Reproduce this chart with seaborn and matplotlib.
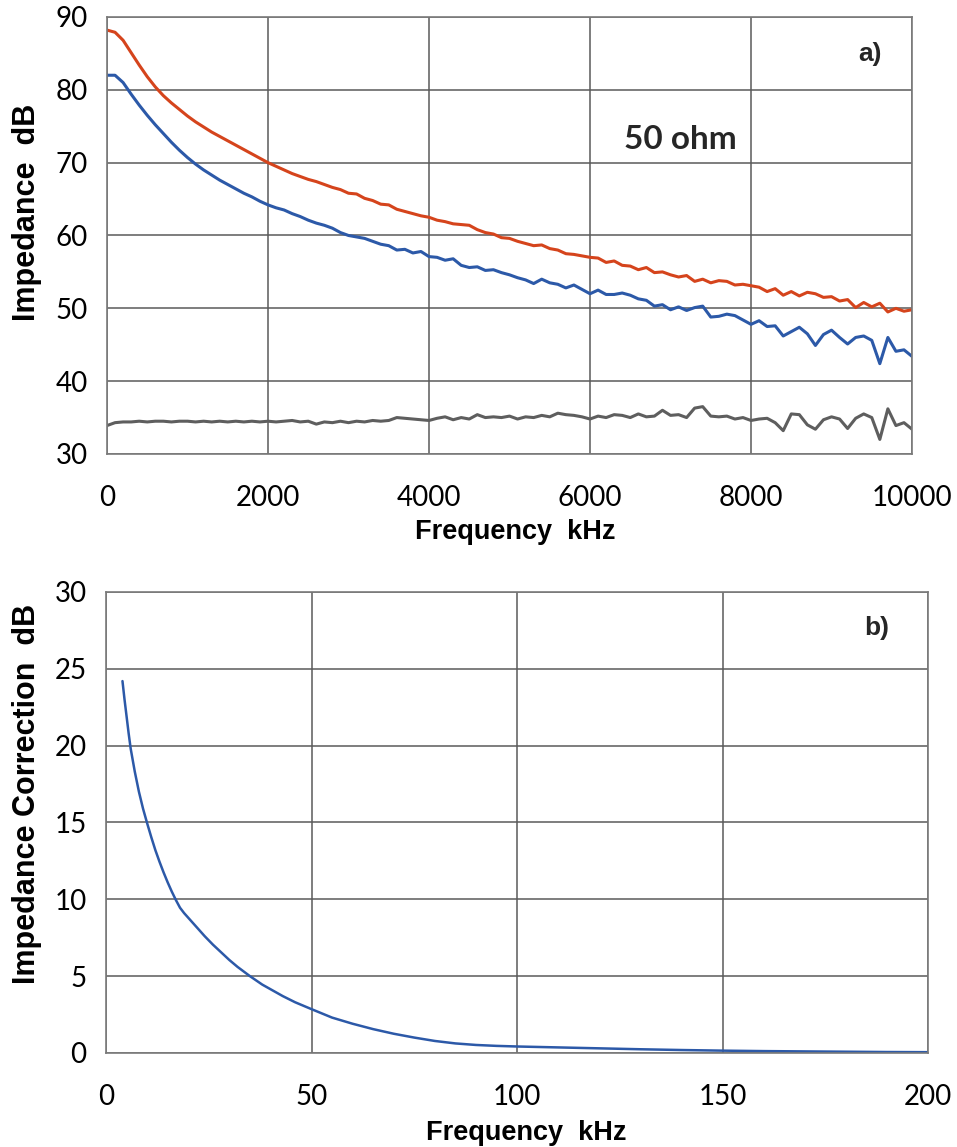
import numpy as np
import pandas as pd
import matplotlib
matplotlib.use("Agg")
import matplotlib.pyplot as plt
import seaborn as sns

# ---- impedance spectra (0 - 10000 kHz, 100 kHz step) ----
freq_khz = np.arange(0, 10001, 100)

impedance_red = [
    88.2, 87.9, 86.8, 85.1, 83.4, 81.8, 80.4, 79.2, 78.2, 77.3,
    76.4, 75.6, 74.9, 74.2, 73.6, 73.0, 72.4, 71.8, 71.2, 70.6,
    70.0, 69.5, 69.0, 68.5, 68.1, 67.7, 67.4, 67.0, 66.6, 66.3,
    65.8, 65.7, 65.1, 64.8, 64.3, 64.2, 63.6, 63.3, 63.0, 62.7,
    62.5, 62.1, 61.9, 61.6, 61.5, 61.4, 60.8, 60.4, 60.2, 59.7,
    59.6, 59.2, 58.9, 58.6, 58.7, 58.2, 58.0, 57.5, 57.4, 57.2,
    57.0, 56.9, 56.3, 56.5, 55.9, 55.8, 55.3, 55.6, 54.9, 55.0,
    54.6, 54.3, 54.5, 53.7, 54.0, 53.5, 53.8, 53.7, 53.2, 53.3,
    53.1, 52.9, 52.3, 52.7, 51.8, 52.3, 51.7, 52.2, 52.0, 51.5,
    51.6, 51.0, 51.2, 50.1, 50.8, 50.2, 50.7, 49.5, 50.0, 49.6,
    49.8,
]

impedance_blue = [
    82.0, 82.0, 81.0, 79.4, 77.9, 76.5, 75.2, 74.0, 72.8, 71.7,
    70.7, 69.8, 69.0, 68.3, 67.6, 67.0, 66.4, 65.8, 65.3, 64.7,
    64.2, 63.8, 63.5, 63.0, 62.6, 62.1, 61.7, 61.4, 61.0, 60.4,
    60.0, 59.8, 59.6, 59.2, 58.8, 58.6, 58.0, 58.1, 57.6, 57.8,
    57.1, 57.0, 56.6, 56.8, 55.9, 55.6, 55.7, 55.2, 55.3, 54.9,
    54.6, 54.2, 53.9, 53.4, 54.0, 53.5, 53.3, 52.8, 53.2, 52.6,
    52.0, 52.5, 51.9, 51.9, 52.1, 51.8, 51.3, 51.1, 50.3, 50.5,
    49.8, 50.2, 49.7, 50.1, 50.3, 48.8, 48.9, 49.2, 49.0, 48.4,
    47.8, 48.3, 47.5, 47.6, 46.2, 46.8, 47.4, 46.5, 44.9, 46.4,
    47.0, 46.0, 45.1, 46.0, 46.2, 45.6, 42.4, 46.0, 44.1, 44.3,
    43.4,
]

impedance_grey = [
    33.9, 34.3, 34.4, 34.4, 34.5, 34.4, 34.5, 34.5, 34.4, 34.5,
    34.5, 34.4, 34.5, 34.4, 34.5, 34.4, 34.5, 34.4, 34.5, 34.4,
    34.5, 34.4, 34.5, 34.6, 34.4, 34.5, 34.1, 34.4, 34.3, 34.5,
    34.3, 34.5, 34.4, 34.6, 34.5, 34.6, 35.0, 34.9, 34.8, 34.7,
    34.6, 34.9, 35.1, 34.7, 35.0, 34.8, 35.4, 35.0, 35.1, 35.0,
    35.2, 34.8, 35.1, 35.0, 35.3, 35.1, 35.6, 35.4, 35.3, 35.1,
    34.8, 35.2, 35.0, 35.4, 35.3, 35.0, 35.5, 35.1, 35.2, 36.0,
    35.3, 35.4, 35.0, 36.3, 36.5, 35.2, 35.1, 35.2, 34.8, 35.0,
    34.6, 34.8, 34.9, 34.3, 33.2, 35.5, 35.4, 34.0, 33.4, 34.7,
    35.1, 34.8, 33.5, 34.9, 35.5, 35.0, 32.0, 36.2, 33.9, 34.3,
    33.4,
]

# ---- impedance correction (kHz) ----
corr_freq_khz = [4, 4.5, 5, 5.5, 6, 7, 8, 9, 10, 11, 12, 13, 14, 15, 16, 17,
                 18, 19, 20, 22, 24, 26, 28, 30, 32, 35, 38, 40, 43, 46, 50,
                 55, 60, 65, 70, 75, 80, 85, 90, 95, 100, 110, 120, 130, 140,
                 150, 160, 170, 180, 190, 200]
correction_db = [24.2, 23.0, 21.9, 20.8, 19.8, 18.3, 17.0, 15.9, 14.95, 14.05,
                 13.2, 12.45, 11.75, 11.1, 10.5, 9.95, 9.45, 9.1, 8.8, 8.2,
                 7.6, 7.05, 6.55, 6.05, 5.6, 5.0, 4.45, 4.15, 3.7, 3.3, 2.85,
                 2.3, 1.9, 1.55, 1.25, 1.0, 0.78, 0.62, 0.52, 0.46, 0.42,
                 0.36, 0.30, 0.24, 0.19, 0.15, 0.12, 0.10, 0.08, 0.06, 0.05]

top_xticks = [0, 2000, 4000, 6000, 8000, 10000]
top_yticks = [30, 40, 50, 60, 70, 80, 90]
bot_xticks = [0, 50, 100, 150, 200]
bot_yticks = [0, 5, 10, 15, 20, 25, 30]

RED = "#D5441C"
BLUE = "#2C59A8"
GREY = "#5E5E5E"
GRID = "#5A5A5A"

sns.set_theme(style="whitegrid")
plt.rcParams["font.family"] = ["Lato", "DejaVu Sans"]

fig = plt.figure(figsize=(9.57, 11.47), dpi=100)
ax1 = fig.add_axes([0.1118, 0.6042, 0.8412, 0.3810])
ax2 = fig.add_axes([0.1108, 0.0820, 0.8589, 0.4019])

spectra = pd.DataFrame({
    "freq": np.concatenate([freq_khz] * 3),
    "value": impedance_red + impedance_blue + impedance_grey,
    "series": ["red"] * len(freq_khz) + ["blue"] * len(freq_khz) + ["grey"] * len(freq_khz),
})
sns.lineplot(data=spectra, x="freq", y="value", hue="series",
             palette={"red": RED, "blue": BLUE, "grey": GREY},
             linewidth=2.2, legend=False, ax=ax1, sort=False)

corr = pd.DataFrame({"freq": corr_freq_khz, "value": correction_db})
sns.lineplot(data=corr, x="freq", y="value", color=BLUE, linewidth=1.8,
             ax=ax2, sort=False)

for line in ax1.lines + ax2.lines:
    line.set_solid_joinstyle("round")
    line.set_solid_capstyle("round")

bold_arial = ["Liberation Sans", "DejaVu Sans"]


def style_axes(ax, xticks, yticks, xlab, ylab, xlab_pos, ylab_pos):
    ax.set_xlim(xticks[0], xticks[-1])
    ax.set_ylim(yticks[0], yticks[-1])
    ax.set_xticks(xticks)
    ax.set_yticks(yticks)
    ax.tick_params(axis="both", length=0, labelsize=20, colors="black")
    ax.tick_params(axis="x", pad=22)
    ax.tick_params(axis="y", pad=14)
    ax.grid(True, color=GRID, linewidth=1.1)
    for s in ax.spines.values():
        s.set_color("#7A7A7A")
        s.set_linewidth(1.2)
    ax.set_xlabel(xlab, family=bold_arial, weight="bold", size=19.5, color="black")
    ax.set_ylabel(ylab, family=bold_arial, weight="bold", size=22, color="black")
    ax.xaxis.set_label_coords(*xlab_pos)
    ax.xaxis.label.set_va("center")
    ax.yaxis.set_label_coords(*ylab_pos)
    ax.yaxis.label.set_va("center")


style_axes(ax1, top_xticks, top_yticks, "Frequency  kHz", "Impedance  dB",
           (0.507, -0.178), (-0.0994, 0.554))
style_axes(ax2, bot_xticks, bot_yticks, "Frequency  kHz", "Impedance Correction  dB",
           (0.511, -0.1735), (-0.0961, 0.562))

ax1.text(0.712, 0.719, "50 ohm", transform=ax1.transAxes, ha="center", va="center",
         fontsize=24, fontweight="bold", family=["Lato", "DejaVu Sans"])
ax1.text(0.948, 0.915, "a)", transform=ax1.transAxes, ha="center", va="center",
         fontsize=19, fontweight="bold", family=bold_arial)
ax2.text(0.938, 0.922, "b)", transform=ax2.transAxes, ha="center", va="center",
         fontsize=19, fontweight="bold", family=bold_arial)

fig.savefig("out.png", dpi=100, facecolor="white")
